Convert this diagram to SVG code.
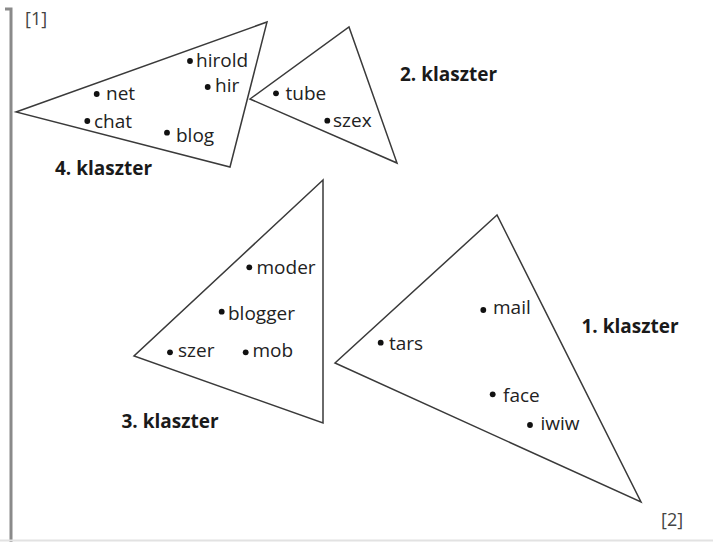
<svg xmlns="http://www.w3.org/2000/svg" width="713" height="542" viewBox="0 0 713 542">
  <style>
    .tri { fill: none; stroke: #3a3a3a; stroke-width: 1.5; stroke-linejoin: miter; }
    .lbl { font-family: "Open Sans", "Liberation Sans", sans-serif; font-size: 19px; fill: #222; }
    .cl { font-family: "Open Sans", "Liberation Sans", sans-serif; font-size: 19px; font-weight: bold; fill: #1a1a1a; }
    .ax { font-family: "Open Sans", "Liberation Sans", sans-serif; font-size: 18px; fill: #444; }
    .dot { fill: #111; }
  </style>
  <rect x="0" y="0" width="713" height="542" fill="#fff"/>
  <g id="axes">
    <polyline points="5,9 11,9 11,542" fill="none" stroke="#8a8a8a" stroke-width="3"/>
    <line x1="0" y1="540.5" x2="713" y2="540.5" stroke="#e2e2e2" stroke-width="2"/>
    <text class="ax" x="25" y="25">[1]</text>
    <text class="ax" x="661" y="526">[2]</text>
  </g>
  <g id="cluster4">
    <polygon class="tri" points="16,112 267,22 230,167"/>
    <circle class="dot" cx="190" cy="61" r="2.9"/><text class="lbl" x="196" y="67">hirold</text>
    <circle class="dot" cx="207.7" cy="87" r="2.9"/><text class="lbl" x="215" y="92">hir</text>
    <circle class="dot" cx="96.7" cy="94" r="2.9"/><text class="lbl" x="106" y="100">net</text>
    <circle class="dot" cx="87.3" cy="121" r="2.9"/><text class="lbl" x="94" y="128">chat</text>
    <circle class="dot" cx="167" cy="132.7" r="2.9"/><text class="lbl" x="176" y="141.5">blog</text>
    <text class="cl" x="55" y="175">4. klaszter</text>
  </g>
  <g id="cluster2">
    <polygon class="tri" points="250,99 349,27 397,163"/>
    <circle class="dot" cx="276" cy="93.3" r="2.9"/><text class="lbl" x="285.5" y="100">tube</text>
    <circle class="dot" cx="327.3" cy="120.7" r="2.9"/><text class="lbl" x="333" y="126.5">szex</text>
    <text class="cl" x="400" y="81">2. klaszter</text>
  </g>
  <g id="cluster3">
    <polygon class="tri" points="323,180 134,356 323,423"/>
    <circle class="dot" cx="249.3" cy="267.3" r="2.9"/><text class="lbl" x="256.5" y="274">moder</text>
    <circle class="dot" cx="221.7" cy="311.7" r="2.9"/><text class="lbl" x="228" y="320">blogger</text>
    <circle class="dot" cx="170" cy="352.3" r="2.9"/><text class="lbl" x="178" y="357">szer</text>
    <circle class="dot" cx="245.7" cy="352.3" r="2.9"/><text class="lbl" x="252.5" y="357">mob</text>
    <text class="cl" x="121.5" y="428">3. klaszter</text>
  </g>
  <g id="cluster1">
    <polygon class="tri" points="497,215 335,363 641,502"/>
    <circle class="dot" cx="483.3" cy="310" r="2.9"/><text class="lbl" x="493" y="314">mail</text>
    <circle class="dot" cx="380.7" cy="342.7" r="2.9"/><text class="lbl" x="389" y="350">tars</text>
    <circle class="dot" cx="492.7" cy="394.3" r="2.9"/><text class="lbl" x="503" y="401.5">face</text>
    <circle class="dot" cx="530" cy="425" r="2.9"/><text class="lbl" x="540.5" y="430">iwiw</text>
    <text class="cl" x="581.5" y="333">1. klaszter</text>
  </g>
  <g id="connectors"></g>
</svg>
